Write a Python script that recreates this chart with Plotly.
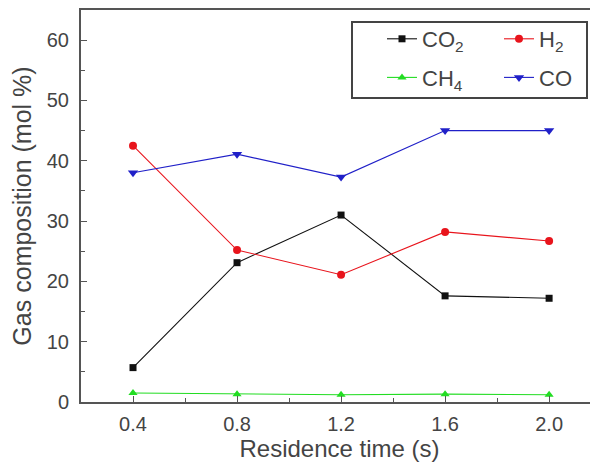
import plotly.graph_objects as go

residence_time = [0.4, 0.8, 1.2, 1.6, 2.0]
co2 = [5.7, 23.1, 31.0, 17.6, 17.2]
h2 = [42.5, 25.2, 21.1, 28.2, 26.7]
ch4 = [1.5, 1.3, 1.2, 1.3, 1.2]
co = [38.0, 41.1, 37.3, 45.0, 45.0]

x_ticks = [0.4, 0.8, 1.2, 1.6, 2.0]
x_tick_labels = ["0.4", "0.8", "1.2", "1.6", "2.0"]
y_ticks = [0, 10, 20, 30, 40, 50, 60]

# name, values, colour, marker, size, legend column
series = [
    ("CO<sub>2</sub>", co2, "#111111", "square", 7, "legend"),
    ("H<sub>2</sub>", h2, "#e8141c", "circle", 8, "legend2"),
    ("CH<sub>4</sub>", ch4, "#22dd22", "triangle-up", 8, "legend"),
    ("CO", co, "#2020c8", "triangle-down", 9, "legend2"),
]

fig = go.Figure()
for i, (name, vals, color, sym, size, leg) in enumerate(series):
    fig.add_trace(go.Scatter(
        x=residence_time, y=vals, name=name, mode="lines+markers",
        line=dict(color=color, width=1.1),
        marker=dict(symbol=sym, size=size, color=color),
        legend=leg, legendgroup=f"g{i}",
    ))

axis_color = "#555555"
text_color = "#444444"
leg_common = dict(
    orientation="v", yanchor="top", xanchor="left",
    bgcolor="rgba(0,0,0,0)", borderwidth=0,
    font=dict(size=22, color=text_color), tracegroupgap=7,
)
# page body has an 8px margin; figure is sized so the plot lands where the reference has it
OFF = 8
FIG_W, FIG_H = 598 - OFF, 462 - OFF
L, T, B = 81 - OFF, 10 - OFF, 60
plot_w = FIG_W - L
plot_h = FIG_H - T - B
def px_x(px):
    return (px - OFF - L) / plot_w
def px_y(py):
    return (FIG_H - B - (py - OFF)) / plot_h

fig.update_layout(
    width=FIG_W, height=FIG_H,
    margin=dict(l=L, r=0, t=T, b=B, autoexpand=False),
    plot_bgcolor="white", paper_bgcolor="white",
    font=dict(family="Liberation Sans, Arial, sans-serif", color=text_color, size=20),
    showlegend=True,
    legend=dict(x=px_x(382), y=px_y(18), **leg_common),
    legend2=dict(x=px_x(499), y=px_y(18), **leg_common),
    shapes=[dict(type="rect", xref="paper", yref="paper",
                 x0=px_x(352), x1=px_x(587), y0=px_y(98), y1=px_y(22),
                 line=dict(color="#444444", width=2))],
    xaxis=dict(
        range=[0.2, 2.188], tickvals=x_ticks, ticktext=x_tick_labels,
        ticks="inside", ticklen=6, tickcolor=axis_color,
        minor=dict(ticks="inside", ticklen=4, dtick=0.2, tick0=0.2, tickcolor=axis_color),
        showline=True, linecolor=axis_color, linewidth=2, mirror=True,
        showgrid=False, zeroline=False, automargin=False,
        title=dict(text="Residence time (s)", font=dict(size=24), standoff=3),
        tickfont=dict(size=20), ticklabelstandoff=3,
    ),
    yaxis=dict(
        range=[0, 65], tickvals=y_ticks,
        ticks="inside", ticklen=6, tickcolor=axis_color,
        minor=dict(ticks="inside", ticklen=4, dtick=5, tick0=0, tickcolor=axis_color),
        showline=True, linecolor=axis_color, linewidth=2, mirror=False,
        showgrid=False, zeroline=False, automargin=False,
        title=dict(text="Gas composition (mol %)", font=dict(size=25), standoff=9),
        tickfont=dict(size=20), ticklabelstandoff=6,
    ),
)

fig.write_html("out.html")
